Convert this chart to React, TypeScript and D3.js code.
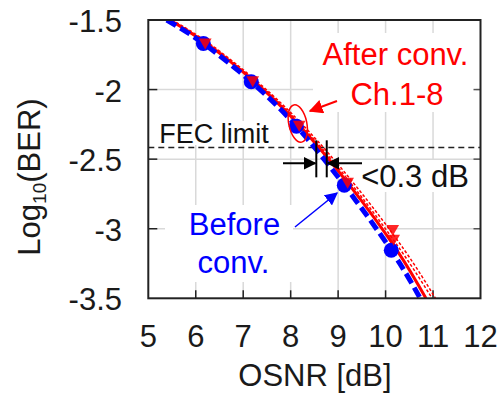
import { useRef, useEffect } from 'react';
import * as d3 from 'd3';

// axis ticks
const xTicks = [5, 6, 7, 8, 9, 10, 11, 12];
const yTicks = [-1.5, -2, -2.5, -3, -3.5];

// measured points (before conversion)
const osnrMeasured = [6.16, 7.17, 8.12, 9.13, 10.12];
const berBefore = [-1.668, -1.944, -2.263, -2.687, -3.155];

// red markers of the converted channels, read around the blue dots
const osnrAfterMarks = [6.2, 7.2, 8.18, 9.2, 10.15, 10.17];
const berAfterMarks = [-1.66, -1.93, -2.25, -2.66, -3.0, -3.07];

// fitted curves, all on the same log10(BER) levels
const fitBer = [-1.5, -1.668, -1.944, -2.263, -2.687, -3.155, -3.5];
const beforeFitOsnr = [5.39, 6.16, 7.17, 8.12, 9.13, 10.12, 10.73];
const afterFitOsnr = [5.45, 6.22, 7.24, 8.2, 9.24, 10.24, 10.85];
const afterChA = [5.47, 6.25, 7.27, 8.24, 9.3, 10.32, 10.98];
const afterChB = [5.5, 6.28, 7.3, 8.28, 9.36, 10.4, 11.05];

const fecLimit = -2.416;
// penalty marker: OSNR of the two bars and log10(BER) level
const penaltyOsnr = [8.54, 8.76];
const penaltyBer = -2.53;

const W = 504;
const H = 397;
const FONT = '"Liberation Sans", Arial, sans-serif';

const App = () => {
  const svgRef = useRef(null);

  useEffect(() => {
    const svg = d3.select(svgRef.current);
    svg.selectAll('*').remove();

    const left = 148.3;
    const right = 480.5;
    const top = 20;
    const bottom = 298.3;

    const x = d3.scaleLinear().domain([5, 12]).range([left, right]);
    const y = d3.scaleLinear().domain([-1.5, -3.5]).range([top, bottom]);

    const defs = svg.append('defs');
    defs
      .append('clipPath')
      .attr('id', 'plotClip')
      .append('rect')
      .attr('x', left)
      .attr('y', top)
      .attr('width', right - left)
      .attr('height', bottom - top);
    const mk = (id, color, size) =>
      defs
        .append('marker')
        .attr('id', id)
        .attr('viewBox', '0 0 10 10')
        .attr('refX', 9)
        .attr('refY', 5)
        .attr('markerWidth', size)
        .attr('markerHeight', size)
        .attr('markerUnits', 'userSpaceOnUse')
        .attr('orient', 'auto')
        .append('path')
        .attr('d', 'M0,0 L10,5 L0,10 Z')
        .attr('fill', color);
    mk('arrRed', '#ff0000', 14);
    mk('arrBlue', '#0000ff', 13);
    mk('arrBlack', '#000', 13);

    // grid
    const g = svg.append('g');
    g.selectAll('.vgrid')
      .data(xTicks.slice(1, -1))
      .join('line')
      .attr('x1', (d) => x(d))
      .attr('x2', (d) => x(d))
      .attr('y1', top)
      .attr('y2', bottom)
      .attr('stroke', '#d9d9d9')
      .attr('stroke-width', 1.5);
    g.selectAll('.hgrid')
      .data(yTicks.slice(1, -1))
      .join('line')
      .attr('x1', left)
      .attr('x2', right)
      .attr('y1', (d) => y(d))
      .attr('y2', (d) => y(d))
      .attr('stroke', '#d9d9d9')
      .attr('stroke-width', 1.5);

    // white boxes behind annotation texts
    const boxes = [
      [313, 33, 163, 79],
      [165, 205, 128, 77],
      [155, 121, 120, 24],
      [358, 160, 118, 32],
    ];
    g.selectAll('.box')
      .data(boxes)
      .join('rect')
      .attr('x', (d) => d[0])
      .attr('y', (d) => d[1])
      .attr('width', (d) => d[2])
      .attr('height', (d) => d[3])
      .attr('fill', '#fff');

    // ticks inside
    g.selectAll('.xt')
      .data(xTicks.slice(1, -1))
      .join('line')
      .attr('x1', (d) => x(d))
      .attr('x2', (d) => x(d))
      .attr('y1', bottom)
      .attr('y2', bottom - 8)
      .attr('stroke', '#222')
      .attr('stroke-width', 1.5);
    g.selectAll('.ytl')
      .data(yTicks.slice(1, -1))
      .join('line')
      .attr('x1', left)
      .attr('x2', left + 9)
      .attr('y1', (d) => y(d))
      .attr('y2', (d) => y(d))
      .attr('stroke', '#222')
      .attr('stroke-width', 1.5);
    g.selectAll('.ytr')
      .data(yTicks.slice(1, -1))
      .join('line')
      .attr('x1', right)
      .attr('x2', right - 7)
      .attr('y1', (d) => y(d))
      .attr('y2', (d) => y(d))
      .attr('stroke', '#555')
      .attr('stroke-width', 1.5);

    // FEC limit
    g.append('line')
      .attr('x1', left)
      .attr('x2', right)
      .attr('y1', y(fecLimit))
      .attr('y2', y(fecLimit))
      .attr('stroke', '#222')
      .attr('stroke-width', 1.5)
      .attr('stroke-dasharray', '6,4');

    // curves
    const plot = svg.append('g').attr('clip-path', 'url(#plotClip)');
    const line = d3
      .line()
      .x((d) => x(d[0]))
      .y((d) => y(d[1]))
      .curve(d3.curveNatural);
    const pairs = (xs) => xs.map((v, i) => [v, fitBer[i]]);

    [afterChA, afterChB].forEach((xs) => {
      plot
        .append('path')
        .attr('d', line(pairs(xs)))
        .attr('fill', 'none')
        .attr('stroke', '#ff0000')
        .attr('stroke-width', 1.5)
        .attr('stroke-dasharray', '3,2');
    });
    plot
      .append('path')
      .attr('d', line(pairs(afterFitOsnr)))
      .attr('fill', 'none')
      .attr('stroke', '#ff0000')
      .attr('stroke-width', 3);
    plot
      .append('path')
      .attr('d', line(pairs(beforeFitOsnr)))
      .attr('fill', 'none')
      .attr('stroke', '#0000ff')
      .attr('stroke-width', 5)
      .attr('stroke-dasharray', '11,5');

    plot
      .selectAll('.dot')
      .data(osnrMeasured)
      .join('circle')
      .attr('cx', (d) => x(d))
      .attr('cy', (d, i) => y(berBefore[i]))
      .attr('r', 7.5)
      .attr('fill', '#0000ff');

    const tri = d3.symbol().type(d3.symbolTriangle).size(70);
    plot
      .selectAll('.rm')
      .data(osnrAfterMarks)
      .join('path')
      .attr('d', tri)
      .attr(
        'transform',
        (d, i) => `translate(${x(d)},${y(berAfterMarks[i])}) rotate(180)`
      )
      .attr('fill', '#ff0000')
      .attr('opacity', 0.85);

    // ellipse + arrow for After conv.
    svg
      .append('ellipse')
      .attr('cx', x(8.15))
      .attr('cy', y(-2.244))
      .attr('rx', 9)
      .attr('ry', 19)
      .attr('transform', `rotate(-12,${x(8.15)},${y(-2.244)})`)
      .attr('fill', 'none')
      .attr('stroke', '#ff0000')
      .attr('stroke-width', 1.5);
    svg
      .append('line')
      .attr('x1', 337)
      .attr('y1', 101)
      .attr('x2', 310)
      .attr('y2', 111)
      .attr('stroke', '#ff0000')
      .attr('stroke-width', 2)
      .attr('marker-end', 'url(#arrRed)');

    // Before conv. arrow
    svg
      .append('line')
      .attr('x1', 295)
      .attr('y1', 227)
      .attr('x2', 337)
      .attr('y2', 193)
      .attr('stroke', '#0000ff')
      .attr('stroke-width', 1.5)
      .attr('marker-end', 'url(#arrBlue)');

    // penalty marker
    const py = y(penaltyBer);
    svg
      .append('line')
      .attr('x1', 283)
      .attr('x2', x(penaltyOsnr[0]) - 1)
      .attr('y1', py)
      .attr('y2', py)
      .attr('stroke', '#000')
      .attr('stroke-width', 2)
      .attr('marker-end', 'url(#arrBlack)');
    svg
      .append('line')
      .attr('x1', 362)
      .attr('x2', x(penaltyOsnr[1]) + 1)
      .attr('y1', py)
      .attr('y2', py)
      .attr('stroke', '#000')
      .attr('stroke-width', 2)
      .attr('marker-end', 'url(#arrBlack)');
    svg
      .selectAll('.pbar')
      .data(penaltyOsnr)
      .join('line')
      .attr('x1', (d) => x(d))
      .attr('x2', (d) => x(d))
      .attr('y1', py - 23)
      .attr('y2', py + 14)
      .attr('stroke', '#000')
      .attr('stroke-width', 2);

    // frame
    svg
      .append('rect')
      .attr('x', left)
      .attr('y', top)
      .attr('width', right - left)
      .attr('height', bottom - top)
      .attr('fill', 'none')
      .attr('stroke', '#222')
      .attr('stroke-width', 2);

    // tick labels
    svg
      .selectAll('.xl')
      .data(xTicks)
      .join('text')
      .attr('x', (d) => x(d))
      .attr('y', 347)
      .attr('text-anchor', 'middle')
      .attr('font-size', 31)
      .attr('font-family', FONT)
      .attr('fill', '#1a1a1a')
      .text((d) => d);
    svg
      .selectAll('.yl')
      .data(yTicks)
      .join('text')
      .attr('x', 122)
      .attr('y', (d) => y(d) + 12)
      .attr('text-anchor', 'end')
      .attr('font-size', 31)
      .attr('font-family', FONT)
      .attr('fill', '#1a1a1a')
      .text((d) => d);

    // axis titles
    svg
      .append('text')
      .attr('x', 315)
      .attr('y', 386)
      .attr('text-anchor', 'middle')
      .attr('font-size', 31)
      .attr('font-family', FONT)
      .attr('fill', '#1a1a1a')
      .text('OSNR [dB]');
    const yt = svg
      .append('text')
      .attr('transform', 'translate(40,177) rotate(-90)')
      .attr('text-anchor', 'middle')
      .attr('font-size', 31)
      .attr('font-family', FONT)
      .attr('fill', '#1a1a1a');
    yt.append('tspan').text('Log');
    yt.append('tspan').attr('font-size', 19).attr('dy', 6).text('10');
    yt.append('tspan').attr('dy', -6).text('(BER)');

    // annotations
    const ann = (t, ax, ay, color, size) =>
      svg
        .append('text')
        .attr('x', ax)
        .attr('y', ay)
        .attr('text-anchor', 'middle')
        .attr('font-size', size)
        .attr('font-family', FONT)
        .attr('fill', color)
        .text(t);
    ann('After conv.', 395.5, 65, '#ff0000', 31);
    ann('Ch.1-8', 397, 105, '#ff0000', 31);
    ann('Before', 234.5, 235, '#0000ff', 31);
    ann('conv.', 233.5, 273, '#0000ff', 31);
    ann('FEC limit', 214, 143, '#111', 27);
    ann('<0.3 dB', 415, 187, '#111', 31);
  }, []);

  return (
    <svg
      ref={svgRef}
      width={W}
      height={H}
      style={{ position: 'absolute', left: 0, top: 0, background: '#fff' }}
    />
  );
};

export default App;
